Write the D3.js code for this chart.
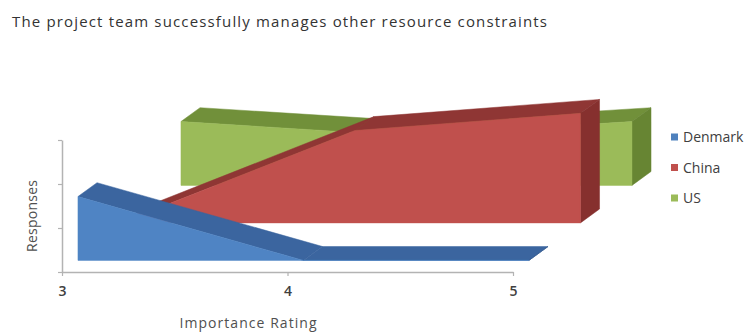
<!DOCTYPE html>
<html><head><meta charset="utf-8">
<script src="https://cdn.jsdelivr.net/npm/d3@7"></script>
<style>body{margin:0;background:#fff}svg{display:block}</style>
</head><body>
<svg id="c" width="750" height="332"></svg>
<script>
// ---- data ----
const categories = ["3", "4", "5"];
const seriesNames = ["Denmark", "China", "US"];
const denmark = [1.45, 0, 0];
const china = [0.08, 2.1, 2.49];
const us = [1.45, 1.13, 1.45];
const yTicks = [0, 1, 2, 3];
const title = "The project team successfully  manages other resource constraints";
const xTitle = "Importance Rating";
const yTitle = "Responses";

// ---- styles ----
const faceColors = [
  {front: "#4f84c4", top: "#3b659f", side: "#345a8f"},
  {front: "#c0504d", top: "#8f3634", side: "#86302e"},
  {front: "#9bbb59", top: "#71903a", side: "#678533"}
];
const legendColors = ["#4f81bd", "#c0504d", "#9bbb59"];
const values = [denmark, china, us];

const svg = d3.select("#c");
const font = "'Open Sans', sans-serif";

const x = d3.scalePoint().domain(categories).range([62, 513]);
const y = d3.scaleLinear().domain([0, 3]).range([272, 140]);
// depth projection (oblique): series slot index -> screen offset
const zx = d3.scaleLinear().domain([0, 1]).range([0, 51.5]);
const zy = d3.scaleLinear().domain([0, 1]).range([0, -37.5]);
const frontGap = 0.31, thick = 0.37;

function P(c, v, d) { return [x(c) + zx(d), y(v) + zy(d)]; }
const line = d3.line();

// draw back series first
for (let s = values.length - 1; s >= 0; s--) {
  const vals = values[s], col = faceColors[s];
  const df = s + frontGap, db = s + frontGap + thick;
  const g = svg.append("g");
  // top faces
  for (let i = 0; i < categories.length - 1; i++) {
    const c1 = categories[i], c2 = categories[i + 1];
    const pts = [P(c1, vals[i], df), P(c2, vals[i + 1], df), P(c2, vals[i + 1], db), P(c1, vals[i], db)];
    g.append("path").attr("d", line(pts) + "Z").attr("fill", col.top).attr("stroke", col.top).attr("stroke-width", 0.5);
  }
  // right side face
  const last = categories.length - 1, cl = categories[last];
  g.append("path")
    .attr("d", line([P(cl, 0, df), P(cl, vals[last], df), P(cl, vals[last], db), P(cl, 0, db)]) + "Z")
    .attr("fill", col.side).attr("stroke", col.side).attr("stroke-width", 0.5);
  // front face
  const front = categories.map((c, i) => P(c, vals[i], df));
  const frontPts = [P(categories[0], 0, df), ...front, P(cl, 0, df)];
  g.append("path").attr("d", line(frontPts) + "Z").attr("fill", col.front).attr("stroke", col.front).attr("stroke-width", 0.5);
}

// ---- axes ----
const axisColor = "#b3b3b3";
const gx = svg.append("g").attr("transform", `translate(0,${y(0)})`)
  .call(d3.axisBottom(x).tickSize(4).tickSizeOuter(0).tickPadding(10));
gx.select(".domain").attr("stroke", axisColor).attr("stroke-width", 1.5);
gx.selectAll(".tick line").attr("stroke", axisColor).attr("stroke-width", 1.2);
gx.selectAll(".tick text").attr("font-family", font).attr("font-size", 14).attr("font-weight", 600).attr("fill", "#404040");

const gy = svg.append("g").attr("transform", `translate(${x(categories[0])},0)`)
  .call(d3.axisLeft(y).tickValues(yTicks).tickSize(4).tickSizeOuter(0).tickFormat(""));
gy.select(".domain").attr("stroke", axisColor).attr("stroke-width", 1.5);
gy.selectAll(".tick line").attr("stroke", axisColor).attr("stroke-width", 1.2);

// ---- texts ----
svg.append("text").attr("x", 12).attr("y", 27).text(title)
  .attr("font-family", font).attr("font-size", 15).attr("fill", "#333")
  .attr("textLength", 535).attr("lengthAdjust", "spacing");
svg.append("text").attr("x", 248).attr("y", 328).attr("text-anchor", "middle").text(xTitle)
  .attr("font-family", font).attr("font-size", 14).attr("fill", "#505050")
  .attr("textLength", 137).attr("lengthAdjust", "spacing");
svg.append("text").attr("transform", "translate(37,216) rotate(-90)").attr("text-anchor", "middle").text(yTitle)
  .attr("font-family", font).attr("font-size", 14).attr("fill", "#505050")
  .attr("textLength", 72).attr("lengthAdjust", "spacing");

// ---- legend ----
const legY = d3.scalePoint().domain(seriesNames).range([137, 198]);
const leg = svg.append("g");
seriesNames.forEach((n, i) => {
  leg.append("rect").attr("x", 671).attr("y", legY(n) - 3.5).attr("width", 7).attr("height", 7).attr("fill", legendColors[i]);
  leg.append("text").attr("x", 683).attr("y", legY(n) + 5).text(n)
    .attr("font-family", font).attr("font-size", 14).attr("fill", "#404040");
});
</script>
</body></html>
